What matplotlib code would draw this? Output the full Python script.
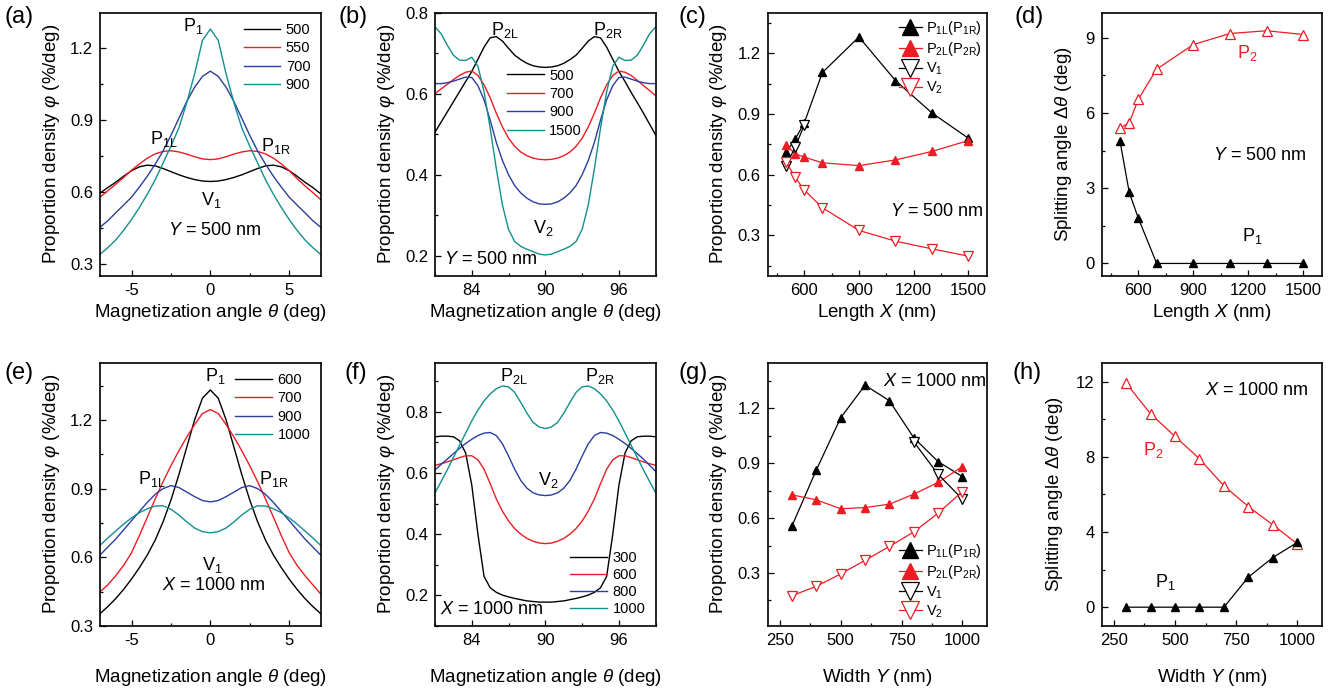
import matplotlib
matplotlib.use("Agg")
import matplotlib.pyplot as plt
from matplotlib.ticker import MultipleLocator

plt.rcParams.update({
    "font.family": ["Liberation Sans", "DejaVu Sans"],
    "mathtext.fontset": "custom",
    "mathtext.rm": "Liberation Sans",
    "mathtext.it": "Liberation Sans:italic",
    "mathtext.bf": "Liberation Sans:bold",
    "axes.unicode_minus": False,
})

RED = "#ED1C24"
BLUE = "#2B3D9E"
TEAL = "#138F8C"

# ---------------- data ----------------
# (a) angle around 0 deg, Y = 500 nm, curves for X
theta_a = [-7, -6.5, -6, -5.5, -5, -4.5, -4, -3.5, -3, -2.5, -2, -1.5, -1, -0.5, 0,
           0.5, 1, 1.5, 2, 2.5, 3, 3.5, 4, 4.5, 5, 5.5, 6, 6.5, 7]
a_500 = [.595, .618, .64, .665, .688, .704, .711, .708, .697, .684, .671, .66, .651, .645, .643,
         .645, .651, .66, .671, .684, .697, .708, .711, .704, .688, .665, .64, .618, .592]
a_550 = [.578, .605, .632, .66, .69, .716, .74, .758, .768, .771, .766, .757, .746, .737, .734,
         .737, .746, .757, .766, .771, .768, .758, .74, .716, .688, .655, .625, .597, .568]
a_700 = [.453, .48, .513, .545, .578, .62, .665, .715, .77, .835, .905, .975, 1.035, 1.08, 1.102,
         1.08, 1.035, .975, .905, .835, .77, .715, .665, .62, .578, .545, .513, .48, .453]
a_900 = [.34, .368, .40, .44, .485, .535, .59, .65, .72, .79, .865, .97, 1.09, 1.23, 1.277,
         1.23, 1.09, .97, .865, .79, .72, .65, .59, .535, .485, .44, .40, .368, .34]
a_labels = ["500", "550", "700", "900"]

# (b) angle around 90 deg, Y = 500 nm, curves for X
theta_b = [81, 81.5, 82, 82.5, 83, 83.5, 84, 84.5, 85, 85.5, 86, 86.5, 87, 87.5, 88, 88.5, 89, 89.5, 90,
           90.5, 91, 91.5, 92, 92.5, 93, 93.5, 94, 94.5, 95, 95.5, 96, 96.5, 97, 97.5, 98, 98.5, 99]
b_500 = [.505, .53, .555, .58, .605, .63, .655, .685, .715, .738, .741, .73, .712, .695, .684, .675, .669, .666, .665,
         .666, .669, .675, .684, .695, .712, .73, .741, .738, .715, .685, .655, .63, .603, .578, .552, .525, .498]
b_700 = [.60, .612, .623, .635, .645, .653, .656, .645, .622, .59, .552, .518, .49, .47, .456, .447, .441, .438, .437,
         .438, .441, .447, .456, .47, .49, .518, .552, .59, .622, .645, .656, .653, .645, .633, .62, .608, .595]
b_900 = [.625, .625, .627, .631, .636, .641, .64, .62, .585, .535, .48, .435, .40, .373, .355, .342, .333, .328, .327,
         .328, .333, .342, .355, .373, .40, .435, .48, .535, .585, .62, .64, .641, .636, .631, .627, .625, .625]
b_1500 = [.765, .748, .72, .695, .683, .682, .69, .668, .605, .515, .415, .325, .265, .235, .223, .216, .21, .204, .202,
          .204, .21, .216, .223, .235, .265, .325, .415, .515, .605, .668, .69, .682, .683, .695, .72, .748, .765]
b_labels = ["500", "700", "900", "1500"]

# (c) peak / valley density vs length X
len_x = [500, 550, 600, 700, 900, 1100, 1300, 1500]
c_p1 = [0.71, 0.775, 0.855, 1.105, 1.28, 1.065, 0.905, 0.78]
c_p2 = [0.749, 0.703, 0.687, 0.659, 0.645, 0.673, 0.715, 0.769]
c_v1_x = [500, 550, 600]
c_v1 = [0.645, 0.735, 0.845]
c_v2 = [0.665, 0.588, 0.525, 0.437, 0.325, 0.272, 0.234, 0.198]

# (d) splitting angle vs length X
d_p2 = [5.4, 5.61, 6.55, 7.75, 8.73, 9.17, 9.28, 9.13]
d_p1 = [4.87, 2.84, 1.8, 0, 0, 0, 0, 0]

# (e) angle around 0 deg, X = 1000 nm, curves for Y
theta_e = theta_a
e_600 = [.354, .385, .42, .46, .505, .555, .61, .675, .755, .85, .96, 1.08, 1.2, 1.295, 1.331,
         1.295, 1.2, 1.08, .96, .85, .755, .675, .61, .555, .505, .46, .42, .385, .354]
e_700 = [.449, .48, .52, .565, .62, .695, .775, .855, .93, 1.0, 1.065, 1.125, 1.18, 1.228, 1.245,
         1.228, 1.18, 1.125, 1.065, 1.0, .93, .855, .775, .695, .62, .565, .52, .48, .44]
e_900 = [.61, .645, .68, .72, .76, .80, .84, .875, .90, .913, .905, .885, .865, .848, .842,
         .848, .865, .885, .905, .913, .90, .875, .84, .80, .76, .72, .68, .645, .61]
e_1000 = [.652, .685, .715, .745, .772, .795, .812, .824, .825, .81, .785, .755, .728, .712, .707,
          .712, .728, .755, .785, .81, .825, .824, .812, .795, .772, .745, .715, .685, .652]
e_labels = ["600", "700", "900", "1000"]

# (f) angle around 90 deg, X = 1000 nm, curves for Y
theta_f = theta_b
f_300 = [.718, .72, .72, .718, .705, .665, .56, .40, .262, .225, .21, .201, .195, .19, .186, .182, .18, .178, .178,
         .178, .18, .182, .186, .19, .195, .201, .21, .225, .262, .40, .56, .665, .705, .718, .72, .72, .718]
f_600 = [.625, .63, .636, .643, .65, .656, .656, .643, .612, .565, .515, .475, .443, .418, .40, .386, .377, .371, .369,
         .371, .377, .386, .40, .418, .443, .475, .515, .565, .612, .643, .656, .656, .65, .643, .636, .63, .625]
f_800 = [.61, .628, .645, .663, .68, .696, .71, .722, .73, .732, .722, .695, .655, .612, .575, .55, .535, .528, .526,
         .528, .535, .55, .575, .612, .655, .695, .722, .732, .73, .722, .71, .696, .68, .663, .645, .625, .605]
f_1000 = [.535, .572, .61, .65, .69, .73, .77, .805, .835, .858, .875, .884, .881, .863, .83, .795, .765, .75, .745,
          .75, .765, .795, .83, .863, .881, .884, .875, .858, .835, .805, .77, .73, .69, .65, .61, .572, .535]
f_labels = ["300", "600", "800", "1000"]

# (g) peak / valley density vs width Y
wid_y = [300, 400, 500, 600, 700, 800, 900, 1000]
g_p1 = [0.558, 0.864, 1.149, 1.327, 1.242, 1.04, 0.909, 0.827]
g_p2 = [0.727, 0.70, 0.651, 0.658, 0.676, 0.731, 0.795, 0.882]
g_v1_x = [800, 900, 1000]
g_v1 = [1.018, 0.84, 0.704]
g_v2 = [0.176, 0.227, 0.295, 0.369, 0.445, 0.524, 0.627, 0.745]

# (h) splitting angle vs width Y
h_p2 = [11.91, 10.28, 9.08, 7.89, 6.45, 5.35, 4.38, 3.37]
h_p1 = [0, 0, 0, 0, 0, 1.6, 2.64, 3.44]

# ---------------- figure ----------------
W, H = 1332, 688
fig = plt.figure(figsize=(W / 100, H / 100), dpi=100)


def px_axes(left, top, right, bottom):
    return fig.add_axes([left / W, 1 - bottom / H, (right - left) / W, (bottom - top) / H])


def style(ax, xmaj, xmin, ymaj, ymin):
    ax.xaxis.set_major_locator(MultipleLocator(xmaj))
    ax.xaxis.set_minor_locator(MultipleLocator(xmin))
    ax.yaxis.set_major_locator(MultipleLocator(ymaj))
    ax.yaxis.set_minor_locator(MultipleLocator(ymin))
    ax.tick_params(which="both", direction="in", top=False, right=False, labelsize=12, pad=5)
    ax.tick_params(which="major", length=4.5, width=0.9)
    ax.tick_params(which="minor", length=2.5, width=0.9)
    for s in ax.spines.values():
        s.set_linewidth(1.2)


COLS = [(100, 320.7), (435, 655.7), (767.7, 986.7), (1101.7, 1321.7)]
ROWS = [(12.7, 276), (362.7, 626)]

THETA0 = r"Magnetization angle $\theta$ (deg)"
PHI = r"Proportion density $\varphi$ (%/deg)"
DTH = r"Splitting angle $\Delta\theta$ (deg)"

LBL = 13.5
TXT = 13
LEG = 10.5


def angle_panel(ax, theta, curves, labels, colors):
    for y, lab, col in zip(curves, labels, colors):
        ax.plot(theta, y, color=col, lw=1.0, label=lab)


cols4 = ["black", RED, BLUE, TEAL]

# (a)
ax = px_axes(COLS[0][0], ROWS[0][0], COLS[0][1], ROWS[0][1])
angle_panel(ax, theta_a, [a_500, a_550, a_700, a_900], a_labels, cols4)
ax.set_xlim(-7, 7)
ax.set_ylim(0.25, 1.345)
style(ax, 5, 2.5, 0.3, 0.15)
ax.legend(loc="upper right", frameon=False, fontsize=LEG, handlelength=2.5,
          handletextpad=0.4, labelspacing=0.3, borderaxespad=0.3)
ax.set_xlabel(THETA0, fontsize=LBL, labelpad=3)
ax.set_ylabel(PHI, fontsize=LBL, labelpad=6)
ax.text(-1.75, 1.27, r"P$_{\mathrm{1}}$", fontsize=TXT)
ax.text(-3.85, 0.80, r"P$_{\mathrm{1L}}$", fontsize=TXT)
ax.text(3.2, 0.77, r"P$_{\mathrm{1R}}$", fontsize=TXT)
ax.text(-0.6, 0.545, r"V$_{\mathrm{1}}$", fontsize=TXT)
ax.text(0.25, 0.44, r"$Y$ = 500 nm", fontsize=TXT, ha="center", va="center")

# (b)
ax = px_axes(COLS[1][0], ROWS[0][0], COLS[1][1], ROWS[0][1])
angle_panel(ax, theta_b, [b_500, b_700, b_900, b_1500], b_labels, cols4)
ax.set_xlim(81, 99)
ax.set_ylim(0.15, 0.8)
style(ax, 6, 3, 0.2, 0.1)
ax.legend(loc="upper left", bbox_to_anchor=(0.3, 0.81), frameon=False, fontsize=LEG,
          handlelength=2.5, handletextpad=0.4, labelspacing=0.3, borderaxespad=0)
ax.set_xlabel(THETA0, fontsize=LBL, labelpad=3)
ax.set_ylabel(PHI, fontsize=LBL, labelpad=6)
ax.text(85.6, 0.745, r"P$_{\mathrm{2L}}$", fontsize=TXT)
ax.text(93.9, 0.745, r"P$_{\mathrm{2R}}$", fontsize=TXT)
ax.text(89.0, 0.255, r"V$_{\mathrm{2}}$", fontsize=TXT)
ax.text(81.7, 0.19, r"$Y$ = 500 nm", fontsize=TXT, va="center")


def point_panel(ax, xs, p1, p2, v1x, v1, v2):
    ax.plot(xs, p1, color="black", lw=0.9, marker="^", ms=6, mfc="black", mec="black",
            label=r"P$_{\mathrm{1L}}$(P$_{\mathrm{1R}}$)")
    ax.plot(xs, p2, color=RED, lw=0.9, marker="^", ms=6, mfc=RED, mec=RED,
            label=r"P$_{\mathrm{2L}}$(P$_{\mathrm{2R}}$)")
    ax.plot(v1x, v1, color="black", lw=0.9, marker="v", ms=7, mfc="white", mec="black",
            mew=0.9, label=r"V$_{\mathrm{1}}$")
    ax.plot(xs, v2, color=RED, lw=0.9, marker="v", ms=7, mfc="white", mec=RED,
            mew=0.9, label=r"V$_{\mathrm{2}}$")


# (c)
ax = px_axes(COLS[2][0], ROWS[0][0], COLS[2][1], ROWS[0][1])
point_panel(ax, len_x, c_p1, c_p2, c_v1_x, c_v1, c_v2)
ax.set_xlim(400, 1600)
ax.set_ylim(0.1, 1.4)
style(ax, 300, 150, 0.3, 0.15)
ax.legend(loc="upper right", bbox_to_anchor=(1.02, 1.01), frameon=False, fontsize=10.5,
          markerscale=1.9, handlelength=1.6, handletextpad=0.3, labelspacing=0.2,
          borderaxespad=0.2)
ax.set_xlabel(r"Length $X$ (nm)", fontsize=LBL, labelpad=3)
ax.set_ylabel(PHI, fontsize=LBL, labelpad=6)
ax.text(1070, 0.42, r"$Y$ = 500 nm", fontsize=TXT, va="center")

# (d)
ax = px_axes(COLS[3][0], ROWS[0][0], COLS[3][1], ROWS[0][1])
ax.plot(len_x, d_p2, color=RED, lw=0.9, marker="^", ms=7, mfc="white", mec=RED, mew=0.9)
ax.plot(len_x, d_p1, color="black", lw=0.9, marker="^", ms=6, mfc="black", mec="black")
ax.set_xlim(400, 1600)
ax.set_ylim(-0.5, 10)
style(ax, 300, 150, 3, 1.5)
ax.set_xlabel(r"Length $X$ (nm)", fontsize=LBL, labelpad=3)
ax.set_ylabel(DTH, fontsize=LBL, labelpad=8)
ax.text(1140, 8.2, r"P$_{\mathrm{2}}$", fontsize=TXT, color=RED)
ax.text(1165, 0.9, r"P$_{\mathrm{1}}$", fontsize=TXT)
ax.text(1005, 4.3, r"$Y$ = 500 nm", fontsize=TXT, va="center")

# (e)
ax = px_axes(COLS[0][0], ROWS[1][0], COLS[0][1], ROWS[1][1])
angle_panel(ax, theta_e, [e_600, e_700, e_900, e_1000], e_labels, cols4)
ax.set_xlim(-7, 7)
ax.set_ylim(0.3, 1.45)
style(ax, 5, 2.5, 0.3, 0.15)
ax.legend(loc="upper right", frameon=False, fontsize=LEG, handlelength=2.5,
          handletextpad=0.4, labelspacing=0.3, borderaxespad=0.3)
ax.set_xlabel(THETA0, fontsize=LBL, labelpad=14)
ax.set_ylabel(PHI, fontsize=LBL, labelpad=6)
ax.text(-0.35, 1.37, r"P$_{\mathrm{1}}$", fontsize=TXT)
ax.text(-4.6, 0.92, r"P$_{\mathrm{1L}}$", fontsize=TXT)
ax.text(3.1, 0.92, r"P$_{\mathrm{1R}}$", fontsize=TXT)
ax.text(-0.5, 0.545, r"V$_{\mathrm{1}}$", fontsize=TXT)
ax.text(0.25, 0.475, r"$X$ = 1000 nm", fontsize=TXT, ha="center", va="center")

# (f)
ax = px_axes(COLS[1][0], ROWS[1][0], COLS[1][1], ROWS[1][1])
angle_panel(ax, theta_f, [f_300, f_600, f_800, f_1000], f_labels, cols4)
ax.set_xlim(81, 99)
ax.set_ylim(0.1, 0.96)
style(ax, 6, 3, 0.2, 0.1)
ax.legend(loc="lower right", frameon=False, fontsize=LEG, handlelength=2.5,
          handletextpad=0.4, labelspacing=0.2, borderaxespad=0.3)
ax.set_xlabel(THETA0, fontsize=LBL, labelpad=14)
ax.set_ylabel(PHI, fontsize=LBL, labelpad=6)
ax.text(86.3, 0.9, r"P$_{\mathrm{2L}}$", fontsize=TXT)
ax.text(93.2, 0.9, r"P$_{\mathrm{2R}}$", fontsize=TXT)
ax.text(89.4, 0.56, r"V$_{\mathrm{2}}$", fontsize=TXT)
ax.text(81.4, 0.155, r"$X$ = 1000 nm", fontsize=TXT, va="center")

# (g)
ax = px_axes(COLS[2][0], ROWS[1][0], COLS[2][1], ROWS[1][1])
point_panel(ax, wid_y, g_p1, g_p2, g_v1_x, g_v1, g_v2)
ax.set_xlim(200, 1100)
ax.set_ylim(0.01, 1.45)
style(ax, 250, 125, 0.3, 0.15)
ax.legend(loc="lower right", bbox_to_anchor=(1.02, -0.01), frameon=False, fontsize=10.5,
          markerscale=1.9, handlelength=1.6, handletextpad=0.3, labelspacing=0.2,
          borderaxespad=0.2)
ax.set_xlabel(r"Width $Y$ (nm)", fontsize=LBL, labelpad=14)
ax.set_ylabel(PHI, fontsize=LBL, labelpad=6)
ax.text(672, 1.345, r"$X$ = 1000 nm", fontsize=TXT, va="center")

# (h)
ax = px_axes(COLS[3][0], ROWS[1][0], COLS[3][1], ROWS[1][1])
ax.plot(wid_y, h_p2, color=RED, lw=0.9, marker="^", ms=7, mfc="white", mec=RED, mew=0.9)
ax.plot(wid_y, h_p1, color="black", lw=0.9, marker="^", ms=6, mfc="black", mec="black")
ax.set_xlim(200, 1100)
ax.set_ylim(-1, 13)
style(ax, 250, 125, 4, 2)
ax.set_xlabel(r"Width $Y$ (nm)", fontsize=LBL, labelpad=14)
ax.set_ylabel(DTH, fontsize=LBL, labelpad=8)
ax.text(367, 8.1, r"P$_{\mathrm{2}}$", fontsize=TXT, color=RED)
ax.text(418, 1.1, r"P$_{\mathrm{1}}$", fontsize=TXT)
ax.text(622, 11.5, r"$X$ = 1000 nm", fontsize=TXT, va="center")

# panel letters
letters = [("(a)", 4, 6), ("(b)", 339, 6), ("(c)", 679, 6), ("(d)", 1015, 6),
           ("(e)", 4, 362), ("(f)", 344, 362), ("(g)", 679, 362), ("(h)", 1012, 362)]
for s, x, y in letters:
    fig.text(x / W, 1 - y / H, s, fontsize=17, va="top", ha="left")

fig.savefig("out.png", dpi=100)
